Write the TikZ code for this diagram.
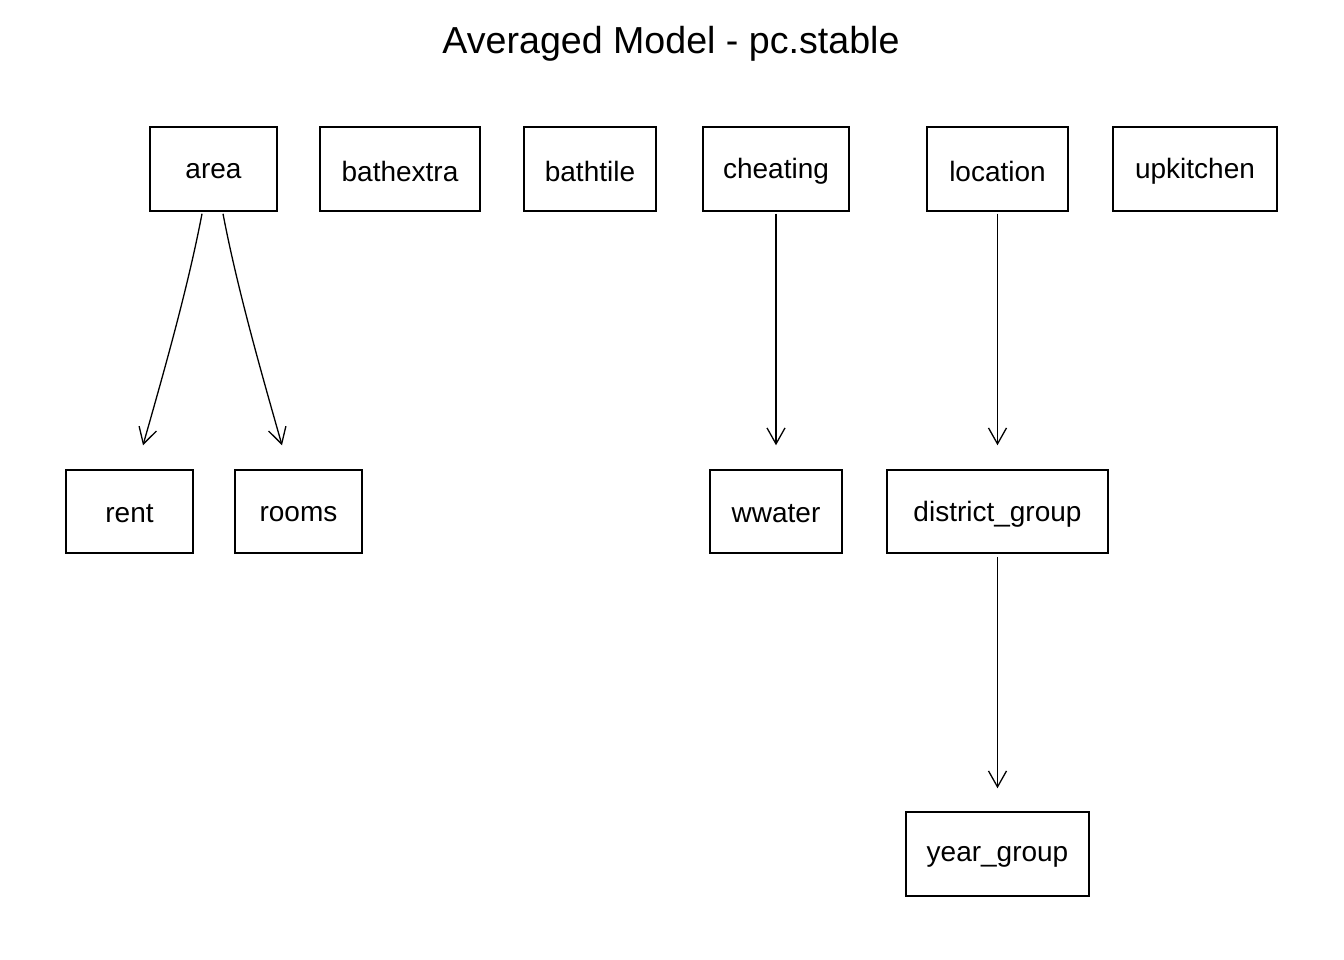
\documentclass[tikz,border=0pt]{standalone}
\usepackage{fontspec}
\setmainfont{Liberation Sans}
\usetikzlibrary{arrows.meta}
\newcommand\lowtxt[1]{\raisebox{-2.5pt}[\height][\depth]{#1}}
\begin{document}
\begin{tikzpicture}[x=1pt,y=-1pt,
  box/.style={draw, line width=1.5pt, inner sep=0pt, font=\fontsize{28}{34}\selectfont, minimum height=84pt},
  edge/.style={line width=1.3pt, -{Straight Barb[length=16pt, width=18pt, line width=1.3pt]}}]
\useasboundingbox (0,0) rectangle (1344,960);
\node[font=\fontsize{37.6}{45}\selectfont] (title) at (671,44) {Averaged Model - pc.stable};
\node[box, minimum width=127pt] (area) at (213.5,169) {\lowtxt{area}};
\node[box, minimum width=160pt] (bathextra) at (400,169) {\lowtxt{bathextra}};
\node[box, minimum width=132pt] (bathtile) at (590,169) {\lowtxt{bathtile}};
\node[box, minimum width=146pt] (cheating) at (776,169) {\lowtxt{cheating}};
\node[box, minimum width=141pt] (location) at (997.5,169) {\lowtxt{location}};
\node[box, minimum width=164pt] (upkitchen) at (1195,169) {\lowtxt{upkitchen}};
\node[box, minimum width=127pt, minimum height=83pt] (rent) at (129.5,511.5) {\lowtxt{rent}};
\node[box, minimum width=127pt, minimum height=83pt] (rooms) at (298.5,511.5) {\lowtxt{rooms}};
\node[box, minimum width=132pt, minimum height=83pt] (wwater) at (776,511.5) {\lowtxt{wwater}};
\node[box, minimum width=221pt, minimum height=83pt] (district) at (997.5,511.5) {\lowtxt{district\_group}};
\node[box, minimum width=183pt] (year) at (997.5,854) {\lowtxt{year\_group}};
\draw[edge] ([xshift=-11.5pt,yshift=-2pt]area.south) .. controls (188,287) and (165,368) .. ([xshift=13.5pt,yshift=24pt]rent.north);
\draw[edge] ([xshift=9.5pt,yshift=-2pt]area.south) .. controls (237,287) and (260,368) .. ([xshift=-16.5pt,yshift=24pt]rooms.north);
\draw[edge] ([yshift=-2pt]cheating.south) -- ([yshift=24pt]wwater.north);
\draw[edge] ([yshift=-2pt]location.south) -- ([yshift=24pt]district.north);
\draw[edge] ([yshift=-3pt]district.south) -- ([yshift=23pt]year.north);
\end{tikzpicture}
\end{document}
